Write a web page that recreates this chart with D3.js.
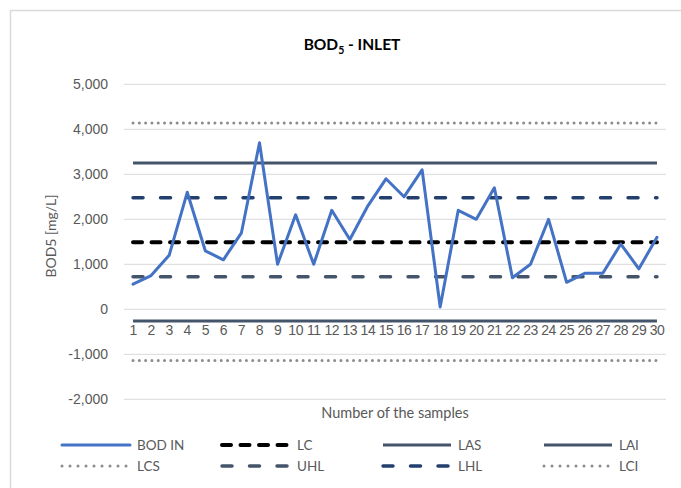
<!DOCTYPE html>
<html>
<head>
<meta charset="utf-8">
<script src="https://cdn.jsdelivr.net/npm/d3@7"></script>
<style>
  body { margin: 0; background: #fff; }
  svg { display: block; font-family: Lato, "Open Sans", sans-serif; }
</style>
</head>
<body>
<svg id="chart" width="681" height="488"></svg>
<script>
// data
var samples = d3.range(1, 31);
var bodIn = [560, 750, 1200, 2600, 1300, 1100, 1700, 3700, 1000, 2100,
             1000, 2200, 1550, 2300, 2900, 2500, 3100, 50, 2200, 2000,
             2700, 700, 1000, 2000, 600, 800, 800, 1450, 900, 1600];
var limitNames = ["LC", "LAS", "LAI", "LCS", "UHL", "LHL", "LCI"];
var limitValues = [1490, 3250, -260, 4140, 725, 2480, -1140];
var yTicks = [-2000, -1000, 0, 1000, 2000, 3000, 4000, 5000];
var legendOrder = ["BOD IN", "LC", "LAS", "LAI", "LCS", "UHL", "LHL", "LCI"];

// line styles
var styles = {
    "BOD IN": { color: "#4472c4", width: 3, dash: null, cap: "round" },
    "LC":  { color: "#000000", width: 4, dash: "9,9.5", cap: "round" },
    "LAS": { color: "#44546a", width: 3, dash: null, cap: "butt" },
    "LAI": { color: "#44546a", width: 3, dash: null, cap: "butt" },
    "LCS": { color: "#8c8c8c", width: 3, dash: "0,6.3", cap: "round" },
    "UHL": { color: "#44546a", width: 3.5, dash: "10,17.5", cap: "round" },
    "LHL": { color: "#223f6e", width: 3.5, dash: "10,17.5", cap: "round" },
    "LCI": { color: "#8c8c8c", width: 3, dash: "0,6.3", cap: "round" }
};

var svg = d3.select("#chart");
var plotLeft = 124, plotRight = 666, plotTop = 84.3, plotBottom = 399.3;

// outer chart border (cropped on right/bottom)
svg.append("rect")
    .attr("x", 10.5).attr("y", 10.5)
    .attr("width", 720).attr("height", 520)
    .attr("fill", "none")
    .attr("stroke", "#d9d9d9")
    .attr("stroke-width", 1.5);

var x = d3.scaleBand().domain(samples).range([plotLeft, plotRight]);
var y = d3.scaleLinear().domain([-2000, 5000]).range([plotBottom, plotTop]);
var fmt = d3.formatLocale({ decimal: ".", thousands: ",", grouping: [3], currency: ["", ""], minus: "-" }).format(",");

// gridlines
svg.append("g")
    .selectAll("line")
    .data(yTicks)
    .enter()
    .append("line")
    .attr("x1", plotLeft).attr("x2", plotRight)
    .attr("y1", function (d) { return y(d); })
    .attr("y2", function (d) { return y(d); })
    .attr("stroke", "#d9d9d9")
    .attr("stroke-width", 1);

// y axis
var yAxis = svg.append("g")
    .attr("transform", "translate(" + (plotLeft - 16) + ",0)")
    .call(d3.axisLeft(y).tickValues(yTicks).tickFormat(fmt).tickSize(0).tickPadding(0));
yAxis.select(".domain").remove();
yAxis.selectAll("text")
    .attr("fill", "#595959")
    .style("font-size", "14px");

// x axis labels
var xAxis = svg.append("g")
    .attr("transform", "translate(0," + (y(0) + 21) + ")")
    .call(d3.axisBottom(x).tickSize(0).tickPadding(0));
xAxis.select(".domain").remove();
xAxis.selectAll("text")
    .attr("fill", "#595959")
    .attr("dy", "0.32em")
    .style("font-size", "14px")
    .style("letter-spacing", "-0.5px");

// limit lines
var limits = limitNames.map(function (n, i) { return { name: n, value: limitValues[i] }; });
svg.append("g")
    .selectAll("line")
    .data(limits)
    .enter()
    .append("line")
    .attr("x1", x(1) + x.bandwidth() / 2)
    .attr("x2", x(30) + x.bandwidth() / 2)
    .attr("y1", function (d) { return y(d.value); })
    .attr("y2", function (d) { return y(d.value); })
    .attr("stroke", function (d) { return styles[d.name].color; })
    .attr("stroke-width", function (d) { return styles[d.name].width; })
    .attr("stroke-dasharray", function (d) { return styles[d.name].dash; })
    .attr("stroke-linecap", function (d) { return styles[d.name].cap; });

// BOD IN series
var line = d3.line()
    .x(function (d, i) { return x(samples[i]) + x.bandwidth() / 2; })
    .y(function (d) { return y(d); });
svg.append("path")
    .datum(bodIn)
    .attr("d", line)
    .attr("fill", "none")
    .attr("stroke", styles["BOD IN"].color)
    .attr("stroke-width", 3)
    .attr("stroke-linejoin", "round")
    .attr("stroke-linecap", "round");

// title
var title = svg.append("text")
    .attr("x", 352).attr("y", 50)
    .attr("text-anchor", "middle")
    .attr("fill", "#000")
    .style("font-size", "15.5px")
    .style("font-weight", "bold");
title.append("tspan").text("BOD");
title.append("tspan").attr("dy", 4).style("font-size", "10.5px").text("5");
title.append("tspan").attr("dy", -4).text(" - INLET");

// axis titles
svg.append("text")
    .attr("transform", "translate(56,236) rotate(-90)")
    .attr("text-anchor", "middle")
    .attr("fill", "#595959")
    .style("font-size", "14px")
    .text("BOD5 [mg/L]");
svg.append("text")
    .attr("x", 395).attr("y", 418)
    .attr("text-anchor", "middle")
    .attr("fill", "#595959")
    .style("font-size", "14.5px")
    .text("Number of the samples");

// legend
var legendX = [60, 220, 381, 542];
var legendY = [445, 466];
var items = svg.append("g")
    .selectAll("g")
    .data(legendOrder)
    .enter()
    .append("g")
    .attr("transform", function (d, i) {
        return "translate(" + legendX[i % 4] + "," + legendY[Math.floor(i / 4)] + ")";
    });
items.append("line")
    .attr("x1", 2).attr("x2", 70)
    .attr("y1", 0).attr("y2", 0)
    .attr("stroke", function (d) { return styles[d].color; })
    .attr("stroke-width", function (d) { return styles[d].width; })
    .attr("stroke-dasharray", function (d) {
        var s = styles[d].dash;
        return s === "0,6.3" ? "0,8" : s;
    })
    .attr("stroke-linecap", function (d) { return d === "BOD IN" ? "round" : styles[d].cap; });
items.append("text")
    .attr("x", 77).attr("y", 0)
    .attr("dy", "0.35em")
    .attr("fill", "#595959")
    .style("font-size", "13.5px")
    .text(function (d) { return d; });
</script>
</body>
</html>
